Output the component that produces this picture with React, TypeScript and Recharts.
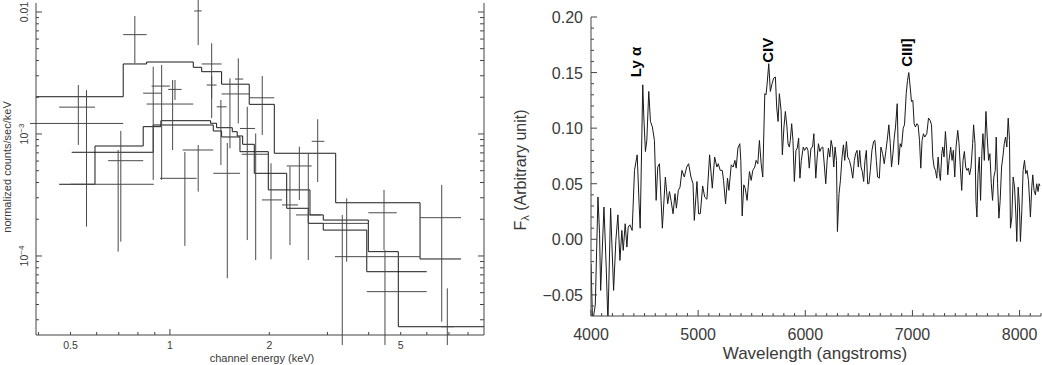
import React from 'react'
import { ComposedChart, LineChart, Line, Scatter, ErrorBar, XAxis, YAxis, ReferenceDot } from 'recharts'

const FONT = '"Liberation Sans", Arial, sans-serif'
const INK = '#1a1a1a'
const AXIS = '#444'
const TXT = '#3a3a3a'

// ---- left panel: X-ray spectrum, folded model steps ----
const modelAEnergy = [0.39, 0.722, 0.85, 1.177, 1.248, 1.434, 1.739, 2.071, 3.178, 5.723, 7.616]
const modelAValue = [2.02e-3, 3.75e-3, 3.89e-3, 3.52e-3, 3.24e-3, 2.56e-3, 1.75e-3, 6.95e-4, 2.73e-4, 9.45e-5, 9.45e-5]

const modelBEnergy = [0.504, 0.89, 0.939, 1.328, 1.385, 1.545, 1.599, 1.661, 1.801, 2.258, 2.625, 2.914, 3.947, 5.997]
const modelBValue = [7.08e-4, 1.148e-3, 1.285e-3, 1.224e-3, 1.126e-3, 1.044e-3, 9.63e-4, 8.23e-4, 4.76e-4, 2.46e-4, 1.85e-4, 1.63e-4, 7.43e-5, 7.43e-5]

const modelCEnergy = [0.462, 0.593, 0.83, 0.89, 1.353, 1.434, 1.63, 1.986, 2.656, 2.914, 3.99, 4.918, 8.95]
const modelCValue = [3.87e-4, 7.97e-4, 1.148e-3, 1.185e-3, 1.058e-3, 9.45e-4, 7.16e-4, 3.48e-4, 2.17e-4, 1.97e-4, 1.085e-4, 2.63e-5, 2.63e-5]

// data bins (centre, bin edges, rate and its error range)
const binEnergy = [0.528, 0.559, 0.783, 1.218, 0.89, 0.71, 0.697, 0.944, 1.019, 1.036, 1.218, 1.11, 1.338, 1.338, 1.427, 1.492, 1.52, 1.611, 1.715, 1.819, 1.904, 2.024, 2.31, 2.466, 2.625, 2.803, 3.327, 3.431, 4.451, 4.481, 6.657, 6.922]
const binEnergyLow = [0.462, 0.377, 0.722, 1.185, 0.83, 0.65, 0.501, 0.88, 0.85, 0.988, 1.093, 0.933, 1.248, 1.292, 1.385, 1.353, 1.434, 1.574, 1.63, 1.65, 1.739, 1.9, 2.185, 2.258, 2.409, 2.688, 2.625, 3.162, 3.99, 3.947, 5.723, 6.625]
const binEnergyHigh = [0.593, 0.722, 0.85, 1.248, 0.944, 0.83, 0.894, 1.0, 1.177, 1.085, 1.353, 1.205, 1.434, 1.385, 1.485, 1.63, 1.739, 1.668, 1.81, 1.986, 2.071, 2.185, 2.443, 2.688, 2.868, 2.935, 3.99, 5.723, 4.864, 5.997, 7.616, 7.253]
const binRate = [1.66e-3, 1.22e-3, 6.52e-3, 1.02e-2, 2.16e-3, 6.04e-4, 3.87e-4, 2.47e-3, 1.76e-3, 2.32e-3, 7.39e-4, 4.33e-4, 3.75e-3, 2.52e-3, 1.67e-3, 4.76e-4, 2.13e-3, 2.82e-3, 1.11e-3, 6.82e-4, 1.98e-3, 2.88e-4, 2.62e-4, 5.47e-4, 2.17e-4, 8.71e-4, 1.85e-4, 9.87e-5, 2.26e-4, 5.1e-5, 2.06e-4, 2.63e-5]
const binRateLow = [8.13e-4, 1.74e-4, 3.8e-3, 5.36e-3, 4.2e-4, 1.31e-4, 1.085e-4, 4.2e-4, 7.39e-4, 1.9e-3, 3.37e-4, 1.21e-4, 1.96e-3, 1.35e-3, 5.57e-4, 6.57e-5, 7.63e-4, 1.22e-3, 1.35e-4, 9.27e-5, 9.81e-4, 9.4e-5, 1.23e-4, 2.88e-4, 9.27e-5, 4.04e-4, 1.86e-5, 8.98e-5, 1.12e-4, 1.86e-5, 2.89e-5, 1.86e-5]
const binRateHigh = [2.52e-3, 2.29e-3, 9.27e-3, 1.38e-2, 3.56e-3, 1.06e-3, 7.39e-4, 3.68e-3, 2.77e-3, 2.77e-3, 8.13e-4, 7.12e-4, 5.54e-3, 2.99e-3, 1.9e-3, 8.44e-4, 2.86e-3, 4.17e-3, 1.67e-3, 1.01e-3, 2.99e-3, 5.75e-4, 5.4e-4, 7.87e-4, 6.95e-4, 1.32e-3, 2.17e-4, 2.97e-4, 3.48e-4, 1.12e-4, 3.82e-4, 5.43e-5]

const leftXTicks = [0.4, 0.5, 0.6, 0.7, 0.8, 0.9, 1, 2, 3, 4, 5, 6, 7, 8]
const leftXLabelled = [0.5, 1, 2, 5]
const leftYTicks = [
  3e-5, 4e-5, 5e-5, 6e-5, 7e-5, 8e-5, 9e-5, 1e-4,
  2e-4, 3e-4, 4e-4, 5e-4, 6e-4, 7e-4, 8e-4, 9e-4, 1e-3,
  2e-3, 3e-3, 4e-3, 5e-3, 6e-3, 7e-3, 8e-3, 9e-3, 1e-2,
]
const leftYDecades = [1e-4, 1e-3, 1e-2]

// ---- right panel: optical spectrum ----
const wavelength = [
  4000, 4015, 4040, 4065, 4080, 4090, 4121, 4142, 4158, 4183, 4211, 4232, 4251, 4270, 4288, 4301, 4319, 4335, 4347, 4363,
  4384, 4406, 4431, 4449, 4459, 4483, 4493, 4508, 4521, 4539, 4555, 4573, 4592, 4608, 4623, 4639, 4654, 4666, 4694, 4716,
  4732, 4747, 4766, 4784, 4797, 4815, 4831, 4849, 4871, 4893, 4911, 4933, 4952, 4964, 4989, 5004, 5020, 5042, 5061, 5082,
  5107, 5132, 5154, 5175, 5188, 5206, 5225, 5237, 5256, 5274, 5287, 5309, 5327, 5343, 5355, 5371, 5389, 5398, 5411, 5426,
  5439, 5457, 5479, 5495, 5510, 5529, 5541, 5557, 5572, 5588, 5603, 5622, 5634, 5643, 5659, 5674, 5690, 5705, 5721, 5733,
  5746, 5758, 5774, 5786, 5801, 5814, 5829, 5839, 5851, 5860, 5873, 5885, 5898, 5913, 5925, 5938, 5950, 5963, 5981, 5994,
  6012, 6025, 6037, 6053, 6068, 6080, 6098, 6111, 6123, 6136, 6148, 6164, 6179, 6191, 6204, 6216, 6229, 6241, 6253, 6266,
  6278, 6291, 6300, 6315, 6328, 6343, 6356, 6368, 6384, 6396, 6412, 6427, 6443, 6458, 6470, 6483, 6495, 6508, 6520, 6532,
  6545, 6557, 6570, 6582, 6594, 6607, 6622, 6638, 6650, 6663, 6675, 6691, 6706, 6722, 6737, 6753, 6768, 6780, 6793, 6805,
  6818, 6830, 6842, 6858, 6870, 6886, 6898, 6914, 6926, 6942, 6954, 6966, 6979, 6991, 7004, 7016, 7028, 7041, 7053, 7066,
  7078, 7090, 7103, 7115, 7134, 7150, 7165, 7178, 7190, 7202, 7215, 7227, 7240, 7252, 7261, 7274, 7283, 7295, 7308, 7320,
  7330, 7342, 7357, 7370, 7382, 7395, 7407, 7423, 7435, 7447, 7460, 7472, 7485, 7497, 7509, 7522, 7534, 7547, 7562, 7571,
  7584, 7593, 7602, 7612, 7624, 7636, 7649, 7658, 7671, 7686, 7698, 7711, 7723, 7736, 7748, 7760, 7773, 7782, 7795, 7807,
  7819, 7832, 7844, 7857, 7869, 7881, 7894, 7906, 7915, 7928, 7940, 7953, 7965, 7974, 7987, 7999, 8008, 8021, 8033, 8046,
  8058, 8070, 8083, 8095, 8101, 8114, 8123, 8135, 8148, 8160, 8173, 8182, 8190,
]
const flux = [
  -0.022, -0.075, -0.059, 0.038, 0.005, -0.046, 0.029, -0.025, -0.075, 0.028, -0.046, -0.001, 0.022, -0.019, 0.008, -0.01, 0.014, -0.007, 0.011, 0.013,
  0.008, 0.062, 0.076, 0.032, 0.01, 0.139, 0.11, 0.079, 0.089, 0.133, 0.106, 0.101, 0.089, 0.035, 0.065, 0.068, 0.035, 0.01, 0.056, 0.032,
  0.043, 0.035, 0.023, 0.041, 0.028, 0.044, 0.047, 0.062, 0.056, 0.065, 0.068, 0.056, 0.05, 0.017, 0.052, 0.023, 0.023, 0.048, 0.038, 0.036,
  0.076, 0.046, 0.074, 0.065, 0.068, 0.062, 0.062, 0.053, 0.032, 0.055, 0.044, 0.067, 0.065, 0.071, 0.064, 0.082, 0.086, 0.071, 0.021, 0.049,
  0.046, 0.035, 0.061, 0.053, 0.062, 0.065, 0.071, 0.068, 0.089, 0.068, 0.056, 0.131, 0.13, 0.139, 0.158, 0.133, 0.14, 0.145, 0.146, 0.119,
  0.106, 0.131, 0.116, 0.076, 0.101, 0.115, 0.101, 0.086, 0.083, 0.089, 0.104, 0.089, 0.052, 0.08, 0.082, 0.091, 0.055, 0.071, 0.083, 0.08,
  0.083, 0.08, 0.064, 0.082, 0.083, 0.095, 0.055, 0.074, 0.086, 0.079, 0.082, 0.083, 0.065, 0.05, 0.071, 0.082, 0.074, 0.089, 0.083, 0.065,
  0.083, 0.071, 0.007, 0.041, 0.053, 0.074, 0.085, 0.071, 0.088, 0.074, 0.071, 0.065, 0.055, 0.071, 0.077, 0.08, 0.065, 0.08, 0.065, 0.061,
  0.052, 0.071, 0.08, 0.05, 0.05, 0.062, 0.08, 0.088, 0.089, 0.071, 0.056, 0.055, 0.083, 0.077, 0.068, 0.08, 0.092, 0.103, 0.086, 0.065,
  0.077, 0.091, 0.101, 0.122, 0.067, 0.086, 0.083, 0.1, 0.103, 0.131, 0.143, 0.15, 0.137, 0.124, 0.125, 0.104, 0.101, 0.104, 0.103, 0.089,
  0.064, 0.089, 0.095, 0.092, 0.095, 0.109, 0.107, 0.103, 0.074, 0.065, 0.062, 0.055, 0.074, 0.059, 0.053, 0.077, 0.083, 0.074, 0.097, 0.08,
  0.058, 0.071, 0.083, 0.071, 0.08, 0.056, 0.083, 0.098, 0.086, 0.065, 0.044, 0.071, 0.079, 0.065, 0.062, 0.064, 0.058, 0.065, 0.086, 0.103,
  0.086, 0.034, 0.02, 0.059, 0.074, 0.035, 0.08, 0.095, 0.071, 0.115, 0.092, 0.071, 0.077, 0.05, 0.035, 0.056, 0.062, 0.092, 0.05, 0.019,
  0.035, 0.065, 0.074, 0.086, 0.092, 0.083, 0.109, 0.089, 0.01, 0.02, 0.056, 0.047, 0.023, -0.002, 0.047, 0.029, -0.002, 0.026, 0.062, 0.071,
  0.059, 0.062, 0.053, 0.032, 0.02, 0.047, 0.058, 0.044, 0.04, 0.05, 0.043, 0.05, 0.048,
]

const lineNames = ['Ly α', 'CIV', 'CIII]']
const lineNameWave = [4419, 5646, 6948]
const lineNameFlux = [0.1595, 0.17, 0.168]

const rightXTicks = Array.from({ length: 43 }, (_, i) => 4000 + i * 100)
const rightXLabelled = [4000, 5000, 6000, 7000, 8000]
const rightYTicks = [
  -0.06, -0.05, -0.04, -0.03, -0.02, -0.01, 0, 0.01, 0.02, 0.03, 0.04, 0.05, 0.06, 0.07,
  0.08, 0.09, 0.1, 0.11, 0.12, 0.13, 0.14, 0.15, 0.16, 0.17, 0.18, 0.19, 0.2,
]
const rightYLabelled = [-0.05, 0, 0.05, 0.1, 0.15, 0.2]

const steps = (e: number[], v: number[]) => e.map((x, i) => ({ e: x, v: v[i] }))
const modelA = steps(modelAEnergy, modelAValue)
const modelB = steps(modelBEnergy, modelBValue)
const modelC = steps(modelCEnergy, modelCValue)
const bins = binEnergy.map((e, i) => ({
  e,
  v: binRate[i],
  ex: [e - binEnergyLow[i], binEnergyHigh[i] - e],
  vy: [binRate[i] - binRateLow[i], binRateHigh[i] - binRate[i]],
}))
const spectrum = wavelength.map((w, i) => ({ w, f: flux[i] }))

const near = (list: number[], v: number) => list.some((t) => Math.abs(t - v) < 1e-9 * Math.max(1, Math.abs(t)) || Math.abs(t - v) < 1e-12)

type Side = 'top' | 'bottom' | 'left' | 'right'

// ticks drawn inward, IDL style; label drawn by an optional callback
const inTick =
  (side: Side, isMajor: (v: number) => boolean, long: number, short: number, text?: (v: number, x: number, y: number) => React.ReactNode) =>
  (p: any) => {
    const { x, y } = p
    const v = p.payload.value
    const n = isMajor(v) ? long : short
    const dx = side === 'left' ? n : side === 'right' ? -n : 0
    const dy = side === 'top' ? n : side === 'bottom' ? -n : 0
    return (
      <g>
        <line x1={x} y1={y} x2={x + dx} y2={y + dy} stroke={AXIS} strokeWidth={1} />
        {text ? text(v, x, y) : null}
      </g>
    )
  }

const leftXText = (v: number, x: number, y: number) =>
  near(leftXLabelled, v) ? (
    <text x={x} y={y + 14} textAnchor="middle" fontSize={10.5} fontFamily={FONT} fill={TXT}>
      {String(v)}
    </text>
  ) : null

const leftYText = (v: number, x: number, y: number) => {
  if (!near(leftYDecades, v)) return null
  const tx = x - 8
  const exp = Math.round(Math.log10(v))
  return (
    <text x={tx} y={y} transform={`rotate(-90 ${tx} ${y})`} textAnchor="middle" fontSize={10.5} fontFamily={FONT} fill={TXT}>
      {exp === -2 ? (
        '0.01'
      ) : (
        <>
          10
          <tspan dy={-4} fontSize={8}>
            {'\u2212' + Math.abs(exp)}
          </tspan>
        </>
      )}
    </text>
  )
}

const rightXText = (v: number, x: number, y: number) =>
  near(rightXLabelled, v) ? (
    <text x={x} y={y + 24} textAnchor="middle" fontSize={16} fontFamily={FONT} fill={TXT}>
      {String(v)}
    </text>
  ) : null

const rightYText = (v: number, x: number, y: number) =>
  near(rightYLabelled, v) ? (
    <text x={x - 8} y={y + 6} textAnchor="end" fontSize={16} fontFamily={FONT} fill={TXT}>
      {(v < 0 ? '\u2212' : '') + Math.abs(v).toFixed(2)}
    </text>
  ) : null

const leftXMajor = (v: number) => near([1], v)
const leftYMajor = (v: number) => near(leftYDecades, v)
const rightXMajor = (v: number) => v % 1000 === 0
const rightYMajor = (v: number) => near(rightYLabelled, v)

const title = (left: number, top: number, size: number, rotate = false): React.CSSProperties => ({
  position: 'absolute',
  left,
  top,
  transform: `translate(-50%, -50%)${rotate ? ' rotate(-90deg)' : ''}`,
  fontFamily: FONT,
  fontSize: size,
  color: TXT,
  whiteSpace: 'nowrap',
  lineHeight: 1,
})

const xDomain: [number, number] = [0.393, 8.94]
const yDomain: [number, number] = [2.25e-5, 1.185e-2]

function XraySpectrum() {
  return (
    <ComposedChart width={500} height={365} margin={{ top: 3, right: 0, bottom: 0, left: 0 }}>
      <XAxis
        dataKey="e"
        type="number"
        scale="log"
        domain={xDomain}
        allowDataOverflow
        ticks={leftXTicks}
        interval={0}
        tickSize={0}
        tickMargin={0}
        tick={inTick('bottom', leftXMajor, 6, 3, leftXText)}
        axisLine={{ stroke: AXIS }}
        height={30}
      />
      <XAxis
        xAxisId="top"
        orientation="top"
        type="number"
        scale="log"
        domain={xDomain}
        allowDataOverflow
        ticks={leftXTicks}
        interval={0}
        tickSize={0}
        tickMargin={0}
        tick={inTick('top', leftXMajor, 6, 3)}
        axisLine={{ stroke: AXIS }}
        height={0}
      />
      <YAxis
        type="number"
        scale="log"
        domain={yDomain}
        allowDataOverflow
        ticks={leftYTicks}
        interval={0}
        tickSize={0}
        tickMargin={0}
        tick={inTick('left', leftYMajor, 6, 3, leftYText)}
        axisLine={{ stroke: AXIS }}
        width={36}
      />
      <YAxis
        yAxisId="right"
        orientation="right"
        type="number"
        scale="log"
        domain={yDomain}
        allowDataOverflow
        ticks={leftYTicks}
        interval={0}
        tickSize={0}
        tickMargin={0}
        tick={inTick('right', leftYMajor, 6, 4)}
        axisLine={{ stroke: AXIS }}
        width={16}
      />
      <Line data={modelA} dataKey="v" type="stepAfter" stroke={INK} strokeWidth={1} dot={false} isAnimationActive={false} />
      <Line data={modelB} dataKey="v" type="stepAfter" stroke={INK} strokeWidth={1} dot={false} isAnimationActive={false} />
      <Line data={modelC} dataKey="v" type="stepAfter" stroke={INK} strokeWidth={1} dot={false} isAnimationActive={false} />
      <Scatter data={bins} dataKey="v" shape={() => <g />} isAnimationActive={false}>
        <ErrorBar dataKey="ex" direction="x" width={0} stroke="#4a4a4a" strokeWidth={1} />
        <ErrorBar dataKey="vy" direction="y" width={0} stroke="#4a4a4a" strokeWidth={1} />
      </Scatter>
    </ComposedChart>
  )
}

function OpticalSpectrum() {
  return (
    <LineChart width={522} height={365} data={spectrum} margin={{ top: 17, right: 1, bottom: 0, left: 0 }}>
      <XAxis
        dataKey="w"
        type="number"
        domain={[4000, 8200]}
        allowDataOverflow
        ticks={rightXTicks}
        interval={0}
        tickSize={0}
        tickMargin={0}
        tick={inTick('bottom', rightXMajor, 6, 3, rightXText)}
        axisLine={{ stroke: AXIS }}
        height={49}
      />
      <XAxis
        xAxisId="top"
        orientation="top"
        type="number"
        domain={[4000, 8200]}
        allowDataOverflow
        ticks={rightXTicks}
        interval={0}
        tickSize={0}
        tickMargin={0}
        tick={inTick('top', rightXMajor, 5, 3)}
        axisLine={{ stroke: AXIS }}
        height={0}
      />
      <YAxis
        type="number"
        domain={[-0.069, 0.2]}
        allowDataOverflow
        ticks={rightYTicks}
        interval={0}
        tickSize={0}
        tickMargin={0}
        tick={inTick('left', rightYMajor, 6, 3, rightYText)}
        axisLine={{ stroke: AXIS }}
        width={71}
      />
      <YAxis
        yAxisId="right"
        orientation="right"
        type="number"
        domain={[-0.069, 0.2]}
        allowDataOverflow
        ticks={rightYTicks}
        interval={0}
        tickSize={0}
        tickMargin={0}
        tick={inTick('right', rightYMajor, 6, 4)}
        axisLine={{ stroke: AXIS }}
        width={0}
      />
      <Line dataKey="f" type="linear" stroke={INK} strokeWidth={1} dot={false} isAnimationActive={false} />
      {lineNames.map((name, i) => (
        <ReferenceDot
          key={name}
          x={lineNameWave[i]}
          y={lineNameFlux[i]}
          r={0}
          fill="none"
          stroke="none"
          label={{ value: name, angle: -90, position: 'center', fill: '#000', fontSize: 15, fontWeight: 'bold', fontFamily: FONT }}
        />
      ))}
    </LineChart>
  )
}

export default function App() {
  return (
    <div style={{ position: 'absolute', left: 0, top: 0, width: 1042, height: 365, background: '#fff', overflow: 'hidden' }}>
      <div style={{ position: 'absolute', left: 0, top: 0 }}>
        <XraySpectrum />
      </div>
      <div style={{ position: 'absolute', left: 520, top: 0 }}>
        <OpticalSpectrum />
      </div>
      <div style={title(7, 167, 11, true)}>normalized counts/sec/keV</div>
      <div style={title(262, 358, 11)}>channel energy (keV)</div>
      <div style={title(522, 170, 16, true)}>
        F<sub style={{ fontSize: 11, verticalAlign: '-0.25em' }}>λ</sub> (Arbitrary unit)
      </div>
      <div style={title(815, 353, 17)}>Wavelength (angstroms)</div>
    </div>
  )
}
